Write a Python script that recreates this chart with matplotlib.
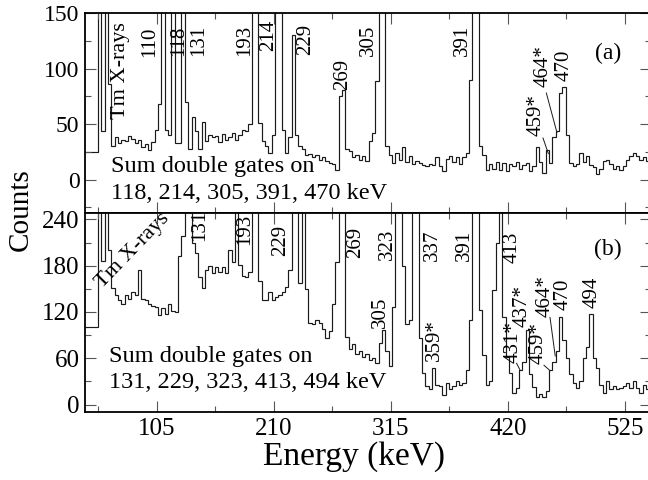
import numpy as np
import matplotlib.pyplot as plt
from matplotlib.ticker import MultipleLocator

plt.rcParams['font.family'] = ['Liberation Serif', 'DejaVu Serif']

# 3 keV bins starting at 40 keV
bin_start = 40
bin_width = 3

counts_a = [25, 25, 25, 25, 400, 44, 300, 86, 30, 38,
            33, 36, 35, 39, 37, 33, 36, 29, 32, 27,
            34, 45, 68, 500, 45, 40, 400, 33, 33, 400,
            70, 28, 56, 44, 28, 52, 35, 40, 38, 39,
            34, 41, 36, 38, 42, 36, 40, 45, 44, 50,
            300, 600, 51, 35, 30, 24, 40, 500, 400, 45,
            24, 38, 130, 40, 30, 28, 22, 23, 20, 22,
            18, 20, 17, 15, 14, 9, 75, 81, 28, 26,
            20, 22, 18, 21, 17, 35, 42, 89, 500, 400,
            30, 22, 15, 24, 18, 29, 16, 21, 14, 17,
            15, 13, 12, 14, 13, 20, 12, 8, 19, 21,
            16, 20, 14, 20, 24, 90, 500, 500, 30, 22,
            9, 14, 10, 16, 9, 15, 8, 14, 12, 16,
            10, 13, 15, 8, 12, 29, 16, 6, 27, 15,
            38, 44, 78, 83, 40, 15, 12, 14, 24, 16,
            21, 13, 11, 5, 10, 17, 18, 14, 10, 12,
            9, 12, 18, 21, 24, 21, 18, 20, 17]

counts_b = [100, 100, 100, 100, 400, 186, 400, 200, 151, 142,
            135, 131, 142, 137, 146, 142, 174, 137, 135, 131,
            128, 127, 116, 125, 117, 130, 121, 120, 192, 218,
            500, 400, 209, 196, 165, 151, 175, 180, 170, 178,
            172, 178, 170, 200, 185, 300, 181, 167, 165, 172,
            500, 500, 160, 136, 136, 146, 136, 140, 142, 146,
            153, 175, 400, 400, 158, 400, 150, 106, 104, 110,
            106, 98, 86, 95, 130, 185, 400, 500, 88, 72,
            78, 66, 70, 62, 65, 58, 60, 54, 80, 97,
            70, 50, 127, 400, 500, 180, 105, 110, 400, 500,
            86, 41, 24, 20, 47, 26, 24, 13, 28, 20,
            24, 30, 26, 28, 45, 110, 400, 500, 123, 64,
            26, 30, 149, 209, 500, 114, 62, 41, 15, 22,
            45, 55, 97, 40, 23, 10, 14, 10, 18, 45,
            55, 70, 114, 84, 60, 40, 28, 21, 30, 60,
            75, 118, 60, 48, 25, 15, 30, 20, 24, 20,
            22, 24, 28, 22, 30, 22, 15, 26, 20]

# peak labels: (text, x, y) -- rotated 90
labels_a = [('110', 98.8, 110), ('118', 124.2, 111), ('131', 142.1, 111),
            ('193', 183.4, 111), ('214', 205, 116), ('229', 238.8, 112),
            ('269', 271.7, 81), ('305', 294.8, 111), ('391', 379, 111),
            ('459*', 445, 39), ('464*', 451.8, 83), ('470', 470.6, 89)]
labels_b = [('131', 143, 212), ('193', 183.4, 207), ('229', 216.4, 192),
            ('269', 283.7, 190), ('323', 311.8, 188), ('337', 352.5, 186),
            ('305', 306, 99), ('359*', 354, 56), ('391', 380.9, 186),
            ('413', 424, 184), ('431*', 424.9, 54), ('437*', 433, 101),
            ('459*', 447.3, 52), ('464*', 453.3, 114), ('470', 469.7, 123),
            ('494', 495.2, 125)]

edges = bin_start + bin_width * np.arange(len(counts_a) + 1)

fig = plt.figure(figsize=(6.48, 4.8), dpi=100)
ax_a = fig.add_axes([0.1312, 0.55625, 0.8735, 0.41667])
ax_b = fig.add_axes([0.1312, 0.14104, 0.8735, 0.41521])

line_col = '#1a1a1a'
for ax, cts in ((ax_a, counts_a), (ax_b, counts_b)):
    ax.stairs(cts, edges, color=line_col, lw=0.85, baseline=None)
    ax.set_xlim(40.4, 548.5)
    ax.xaxis.set_major_locator(MultipleLocator(105))
    ax.xaxis.set_minor_locator(MultipleLocator(52.5))
    ax.tick_params(which='both', direction='in', top=True, right=True,
                   color='#555555', width=0.8)
    ax.tick_params(which='major', length=8, pad=4)
    ax.tick_params(which='minor', length=4.5)
    for sp in ax.spines.values():
        sp.set_linewidth(1.3)

ax_a.set_ylim(-30, 150)
ax_a.yaxis.set_major_locator(MultipleLocator(50))
ax_a.yaxis.set_minor_locator(MultipleLocator(25))
ax_a.tick_params(axis='x', labelbottom=False)
ax_a.tick_params(axis='y', labelsize=17)

ax_b.set_ylim(-10, 248.3)
ax_b.yaxis.set_major_locator(MultipleLocator(60))
ax_b.yaxis.set_minor_locator(MultipleLocator(30))
ax_b.tick_params(axis='both', labelsize=18)
ax_b.tick_params(axis='x', pad=4)

pk = dict(rotation=90, ha='center', va='bottom', fontsize=15)
for t, x, y in labels_a:
    ax_a.text(x, y, t, **pk)
for t, x, y in labels_b:
    ax_b.text(x, y, t, **pk)

ax_a.text(72, 55, 'Tm X-rays', rotation=90, ha='center', va='bottom',
          fontsize=16)
ax_b.text(83, 199, 'Tm X-rays', rotation=46, ha='center', va='center',
          fontsize=16, rotation_mode='anchor')

# arrows for weak lines
ax_a.plot([451.5, 456.3], [37.5, 23.5], color=line_col, lw=0.7)
ax_a.plot([454.5, 464.0], [78.0, 42.5], color=line_col, lw=0.7)
ax_b.plot([427.8, 430.8], [53.5, 45.0], color=line_col, lw=0.7)
ax_b.plot([452.4, 457.8], [51.0, 44.0], color=line_col, lw=0.7)
ax_b.plot([457.8, 462.5], [113.0, 63.0], color=line_col, lw=0.7)

ax_a.text(63.5, 7, 'Sum double gates on', fontsize=17.5, va='baseline')
ax_a.text(63.5, -17.5, '118, 214, 305, 391, 470 keV', fontsize=17.5, va='baseline')
ax_b.text(61.5, 55, 'Sum double gates on', fontsize=17.5, va='baseline')
ax_b.text(61.5, 21.5, '131, 229, 323, 413, 494 keV', fontsize=17.5, va='baseline')

ax_a.text(510, 113.5, '(a)', fontsize=17, ha='center', va='center')
ax_b.text(510, 201, '(b)', fontsize=17, ha='center', va='center')

fig.text(21 / 648, 1 - 210 / 480, 'Counts', rotation=90, fontsize=21,
         ha='center', va='center')
fig.text(354 / 648, 1 - 465 / 480, 'Energy (keV)', fontsize=24,
         ha='center', va='baseline')

fig.savefig('out.png', dpi=100)
